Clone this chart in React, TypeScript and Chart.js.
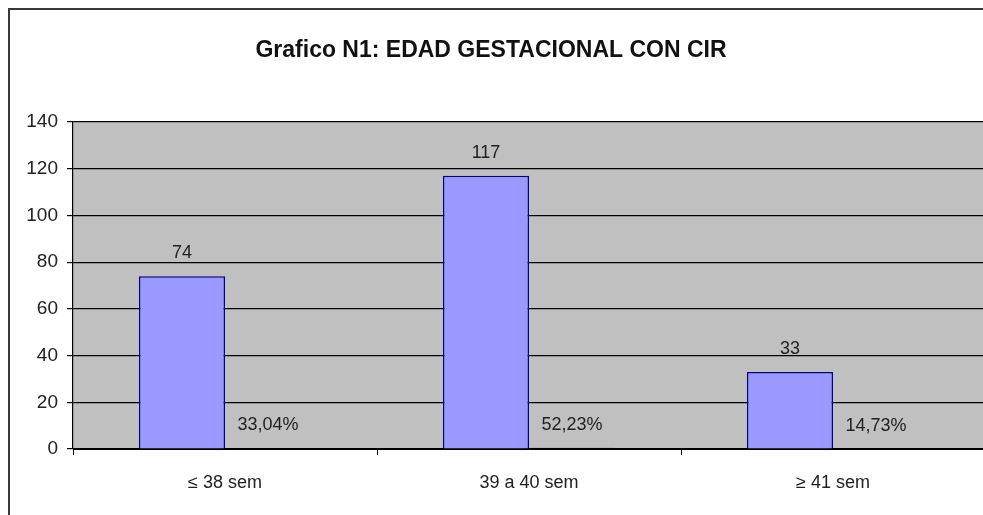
import React, { useEffect, useRef } from "react";
import { Chart, registerables } from "chart.js";

Chart.register(...registerables);

const titleText = "Grafico N1: EDAD GESTACIONAL CON CIR";
const categories = ["≤ 38 sem", "39 a 40 sem", "≥ 41 sem"];
const counts = [74, 117, 33];
const shares = [0.3304, 0.5223, 0.1473];
const yTicks = [0, 20, 40, 60, 80, 100, 120, 140];

const FONT = "'Liberation Sans', Arial, sans-serif";

const fmtPct = (v: number) => (v * 100).toFixed(2).replace(".", ",") + "%";

const framePlugin = {
  id: "frame",
  beforeDraw(chart: any) {
    const { ctx, chartArea, width, height } = chart;
    ctx.save();
    ctx.fillStyle = "#ffffff";
    ctx.fillRect(0, 0, width, height);
    ctx.fillStyle = "#c0c0c0";
    ctx.fillRect(chartArea.left, chartArea.top, chartArea.right - chartArea.left, chartArea.bottom - chartArea.top);
    ctx.strokeStyle = "#3a3a3a";
    ctx.lineWidth = 2;
    ctx.beginPath();
    ctx.moveTo(9, height + 5);
    ctx.lineTo(9, 9);
    ctx.lineTo(width + 5, 9);
    ctx.stroke();
    ctx.fillStyle = "#111";
    ctx.font = `bold 23px ${FONT}`;
    ctx.textAlign = "center";
    ctx.textBaseline = "middle";
    ctx.fillText(titleText, 491, 51);
    ctx.restore();
  },
  afterDatasetsDraw(chart: any) {
    const { ctx } = chart;
    ctx.save();
    ctx.fillStyle = "#222";
    ctx.font = `18px ${FONT}`;
    ctx.textAlign = "center";
    ctx.textBaseline = "middle";
    chart.data.datasets.forEach((ds: any, di: number) => {
      const meta = chart.getDatasetMeta(di);
      meta.data.forEach((bar: any, i: number) => {
        const v = ds.data[i];
        const txt = di === 0 ? String(v) : fmtPct(v);
        ctx.fillText(txt, bar.x, bar.y - 23);
      });
    });
    ctx.restore();
  },
};

export default function App() {
  const ref = useRef<HTMLCanvasElement>(null);
  useEffect(() => {
    if (!ref.current) return;
    const chart = new Chart(ref.current, {
      type: "bar",
      data: {
        labels: categories,
        datasets: [
          {
            label: "Casos",
            data: counts,
            backgroundColor: "#9999ff",
            borderColor: "#000080",
            borderWidth: 1.5,
            categoryPercentage: 0.566,
            barPercentage: 1,
          },
          {
            label: "Porcentaje",
            data: shares,
            backgroundColor: "#000000",
            borderColor: "#000000",
            borderWidth: 0.6,
            categoryPercentage: 0.566,
            barPercentage: 1,
          },
        ],
      },
      options: {
        responsive: false,
        animation: false,
        layout: { padding: { top: 122, left: 0, right: 10, bottom: 0 } },
        plugins: {
          legend: { display: false },
          title: { display: false },
          tooltip: { enabled: false },
        },
        scales: {
          x: {
            offset: true,
            grid: { drawOnChartArea: false, drawTicks: true, tickLength: 6, color: "#000", offset: true },
            border: { display: true, color: "#000", width: 1 },
            ticks: { color: "#222", font: { family: FONT, size: 18 }, padding: 17 },
            afterFit: (s: any) => {
              s.height = 66;
            },
          },
          y: {
            min: 0,
            max: 140,
            afterBuildTicks: (s: any) => {
              s.ticks = yTicks.map((v) => ({ value: v }));
            },
            grid: { color: "#000", lineWidth: 1.2, drawTicks: true, tickLength: 6 },
            border: { display: true, color: "#000", width: 1.2 },
            ticks: { color: "#222", font: { family: FONT, size: 19 }, padding: 9 },
            afterFit: (s: any) => {
              s.width = 73;
            },
          },
        },
      },
      plugins: [framePlugin],
    });
    return () => chart.destroy();
  }, []);
  return (
    <div style={{ position: "fixed", left: 0, top: 0, width: 983, height: 515, overflow: "hidden", background: "#fff" }}>
      <canvas ref={ref} width={995} height={515} style={{ display: "block" }} />
    </div>
  );
}
